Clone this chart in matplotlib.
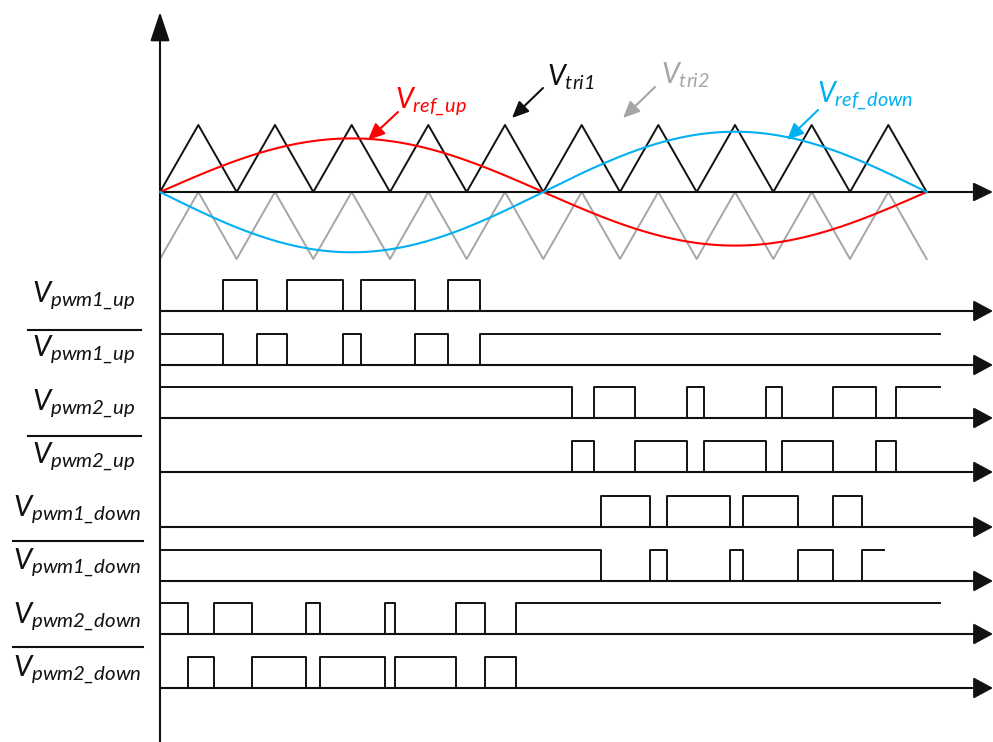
import numpy as np
import matplotlib
matplotlib.use('Agg')
import matplotlib.pyplot as plt

plt.rcParams['font.family'] = ['Lato', 'DejaVu Sans']
plt.rcParams['mathtext.fontset'] = 'custom'
plt.rcParams['mathtext.it'] = 'Lato:italic'
plt.rcParams['mathtext.rm'] = 'Lato:italic'
plt.rcParams['mathtext.sf'] = 'Lato:italic'

# ---- data (time in carrier periods) ----
n_periods = 10          # carrier periods over one reference cycle
ref_up_amp = 0.80       # relative to carrier peak
ref_down_amp = 0.90

row_labels = [r'$V_{pwm1\_up}$', r'$V_{pwm1\_up}$',
              r'$V_{pwm2\_up}$', r'$V_{pwm2\_up}$',
              r'$V_{pwm1\_down}$', r'$V_{pwm1\_down}$',
              r'$V_{pwm2\_down}$', r'$V_{pwm2\_down}$']
row_bar = [False, True, False, True, False, True, False, True]
row_start = [0, 1, 1, 0, 0, 1, 1, 0]
edges_1up = [0.82, 1.26, 1.66, 2.39, 2.62, 3.33, 3.76, 4.17]
edges_2up = [5.38, 5.66, 6.20, 6.88, 7.10, 7.91, 8.11, 8.78, 9.34, 9.60]
edges_1down = [5.75, 6.39, 6.61, 7.43, 7.61, 8.32, 8.78, 9.16]
edges_2down = [0.36, 0.70, 1.20, 1.90, 2.09, 2.94, 3.07, 3.86, 4.24, 4.64]
row_edges = [edges_1up, edges_1up, edges_2up, edges_2up,
             edges_1down, edges_1down, edges_2down, edges_2down]
row_end = [10.17, 10.17, 10.17, 10.17, 10.17, 9.44, 10.17, 10.17]

# ---- layout (pixels) ----
X0 = 160.0            # time origin in px
PER = 76.667          # px per carrier period
AX_Y = 192            # analog axis baseline
AMP = 67              # carrier amplitude px
ROW_Y = [311, 365, 418, 472, 527, 581, 634, 688]
PULSE_H = 31
LABEL_X = [32, 32, 32, 32, 13, 13, 13, 13]
LABEL_DY = [9, 9, 8, 9, 11, 12, 11, 12]
OVER_X = [(28, 141), (28, 141), (13, 143), (13, 143)]
OVER_DY = [35, 36, 40, 41]


def t(px):
    return (px - X0) / PER


RED = '#ff0000'
BLUE = '#00b0f0'
GRAY = '#a6a6a6'
INK = '#111111'

fig = plt.figure(figsize=(9.93, 7.42), dpi=100)
ax = fig.add_axes([0, 0, 1, 1])
ax.set_xlim(t(0), t(993))
ax.set_ylim(742, 0)
ax.axis('off')


def arrow(ax, start, tip, hl, hw, lw, color=INK):
    ax.annotate('', xy=tip, xytext=start,
                arrowprops=dict(arrowstyle='-|>,head_length=%g,head_width=%g' % (hl, hw),
                                mutation_scale=1, lw=lw, color=color,
                                shrinkA=0, shrinkB=0))


# carriers
tv = np.arange(0, n_periods + 0.25, 0.5)
lv = np.arange(len(tv)) % 2
ax.plot(tv, AX_Y + AMP * (1 - lv), color=GRAY, lw=1.4, zorder=2)
ax.plot(tv, AX_Y - AMP * lv, color=INK, lw=1.4, zorder=3)

# references
tt = np.linspace(0, n_periods, 500)
s = np.sin(2 * np.pi * tt / n_periods)
ax.plot(tt, AX_Y - AMP * ref_up_amp * s, color=RED, lw=1.5, zorder=4)
ax.plot(tt, AX_Y + AMP * ref_down_amp * s, color=BLUE, lw=1.5, zorder=4)

# axes
arrow(ax, (0, 742), (0, 12), 18, 6, 1.5)
arrow(ax, (0, AX_Y), (t(993), AX_Y), 12, 5.8, 1.5)

# labels on analog panel
ax.text(t(547), 85, r'$V_{tri1}$', color=INK, fontsize=20.5, ha='left', va='baseline')
ax.text(t(661), 83, r'$V_{tri2}$', color=GRAY, fontsize=20.5, ha='left', va='baseline')
ax.text(t(395), 108, r'$V_{ref\_up}$', color=RED, fontsize=20.5, ha='left', va='baseline')
ax.text(t(817), 103, r'$V_{ref\_down}$', color=BLUE, fontsize=20.5, ha='left', va='baseline')
arrow(ax, (t(543), 88), (t(512), 118), 10, 4.5, 1.5, INK)
arrow(ax, (t(655), 87), (t(623), 118), 10, 4.5, 1.5, GRAY)
arrow(ax, (t(398), 112), (t(368), 140), 10, 4.5, 1.5, RED)
arrow(ax, (t(818), 110), (t(787), 140), 10, 4.5, 1.5, BLUE)

# PWM rows
for i in range(8):
    base = ROW_Y[i]
    arrow(ax, (0, base), (t(993), base), 12, 6.5, 1.5)
    lvl = row_start[i]
    xs, ys = [0], [lvl]
    for e in row_edges[i]:
        xs += [e, e]
        ys += [lvl, 1 - lvl]
        lvl = 1 - lvl
    xs.append(row_end[i])
    ys.append(lvl)
    ax.plot(xs, base - PULSE_H * np.array(ys), color=INK, lw=1.4, zorder=3)
    ax.text(t(LABEL_X[i]), base - LABEL_DY[i], row_labels[i], fontsize=21,
            ha='left', va='baseline', color=INK)
    if row_bar[i]:
        x1, x2 = OVER_X[i // 2]
        oy = base - OVER_DY[i // 2]
        ax.plot([t(x1), t(x2)], [oy, oy], color=INK, lw=1.5)

fig.savefig('out.png', dpi=100)
